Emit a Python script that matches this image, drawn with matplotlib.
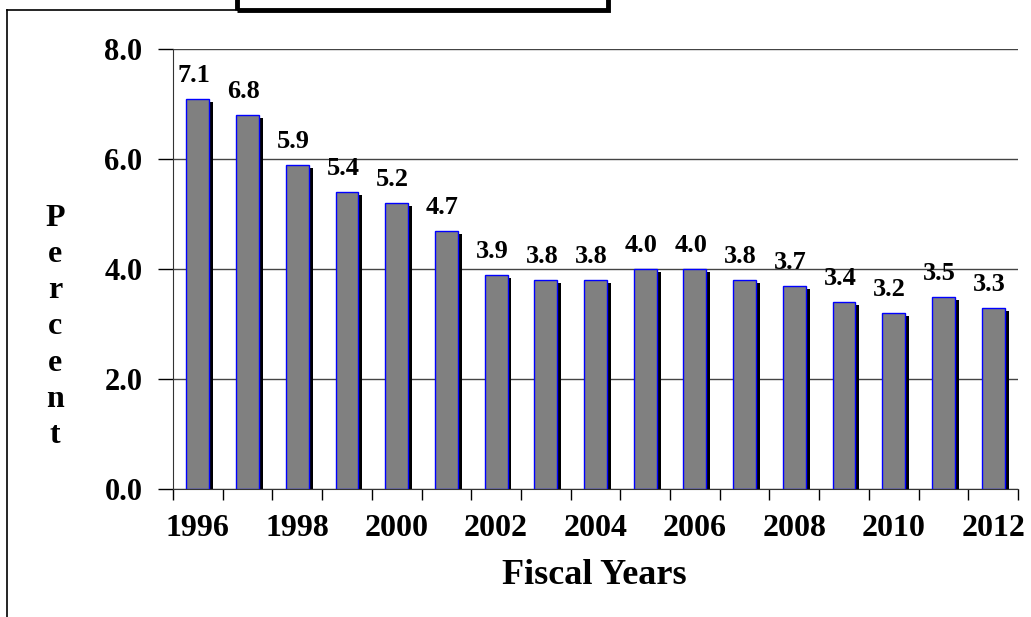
import numpy as np
import matplotlib
matplotlib.use('Agg')
import matplotlib.pyplot as plt
from matplotlib.patches import Rectangle
from matplotlib.lines import Line2D as Line

years = list(range(1996, 2013))
values = [7.1, 6.8, 5.9, 5.4, 5.2, 4.7, 3.9, 3.8, 3.8, 4.0, 4.0, 3.8, 3.7, 3.4, 3.2, 3.5, 3.3]
ytick_vals = [0, 2, 4, 6, 8]

plt.rcParams['font.family'] = ['Liberation Serif', 'DejaVu Serif']
plt.rcParams['font.weight'] = 'bold'

W, H = 1031, 617
fig = plt.figure(figsize=(W / 100, H / 100), dpi=100)
ax = fig.add_axes([173 / W, 1 - 489 / H, (1018 - 173) / W, (489 - 49) / H])

x = np.arange(len(years))
vals = np.array(values)

# drop shadow, then the bar itself
ax.bar(x + 0.08, vals - 0.055, width=0.46, color='black', zorder=2)
ax.bar(x, vals, width=0.46, color='#808080', edgecolor='#0000ff', linewidth=1.0, zorder=3)

for xi, v in zip(x, values):
    ax.annotate('%.1f' % v, (xi - 0.08, v), xytext=(0, 12), textcoords='offset points',
                ha='center', va='baseline', fontsize=19, fontweight='bold', zorder=4)

ax.set_xlim(-0.5, len(years) - 0.5)
ax.set_ylim(0, 8)

# ticks at category boundaries, labels on every other year
ax.set_xticks(np.arange(-0.5, len(years), 1.0))
ax.set_xticklabels([])
ax.set_xticks(x[::2], minor=True)
ax.set_xticklabels([str(y) for y in years[::2]], minor=True)
ax.tick_params(axis='x', which='major', direction='out', length=8, width=1)
ax.tick_params(axis='x', which='minor', length=0, pad=18, labelsize=23)

ax.set_yticks(ytick_vals)
ax.set_yticklabels(['%.1f' % t for t in ytick_vals])
ax.tick_params(axis='y', direction='out', length=11, width=1, pad=11, labelsize=22)

ax.yaxis.grid(True, color='#444444', linewidth=1)
ax.set_axisbelow(True)
for s in ['top', 'right']:
    ax.spines[s].set_visible(False)
ax.spines['left'].set_color('#333333')
ax.spines['bottom'].set_color('#333333')

fig.text(55 / W, 1 - 327 / H, '\n'.join('Percent'), ha='center', va='center',
         multialignment='center', fontsize=23, fontweight='bold', linespacing=1.33)
fig.text(594 / W, 1 - 576 / H, 'Fiscal Years', ha='center', va='center',
         fontsize=26, fontweight='bold')

# frame pieces around the chart
fig.add_artist(Line([7 / W, 7 / W], [0, 1 - 10 / H], color='black', linewidth=1.2,
                    transform=fig.transFigure))
fig.add_artist(Line([7 / W, 237 / W], [1 - 10 / H, 1 - 10 / H], color='black', linewidth=1.2,
                    transform=fig.transFigure))
fig.add_artist(Rectangle((237 / W, 1 - 10 / H), (608 - 237) / W, 40 / H, fill=False,
                         edgecolor='black', linewidth=3.5, transform=fig.transFigure))

fig.savefig('out.png', dpi=100)
